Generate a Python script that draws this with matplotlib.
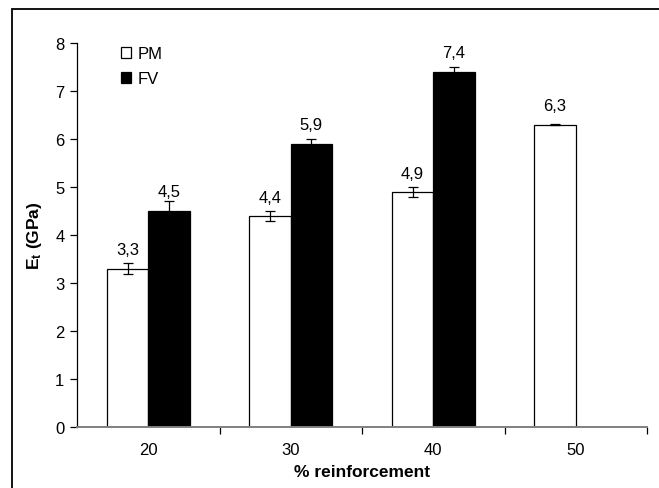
import matplotlib
matplotlib.use("Agg")
import matplotlib.pyplot as plt
from matplotlib.patches import Rectangle
import numpy as np

plt.rcParams["font.family"] = ["Liberation Sans", "DejaVu Sans"]
plt.rcParams["mathtext.fontset"] = "custom"
plt.rcParams["mathtext.rm"] = "Liberation Sans"
plt.rcParams["mathtext.bf"] = "Liberation Sans:bold"

# data
categories = ["20", "30", "40", "50"]
pm_values = [3.3, 4.4, 4.9, 6.3]
pm_errors = [0.11, 0.1, 0.1, 0.01]
fv_values = [4.5, 5.9, 7.4]
fv_errors = [0.2, 0.1, 0.1]

def fmt(v):
    return f"{v:.1f}".replace(".", ",")

fig = plt.figure(figsize=(6.59, 4.89), dpi=100)
ax = fig.add_axes([77 / 659, 1 - 428 / 489, 570 / 659, 384 / 489])

x = np.arange(len(categories))
w = 0.29
ekw = dict(elinewidth=0.9, capthick=0.9, ecolor="black")

pm_x = x - w / 2
fv_x = x[:len(fv_values)] + w / 2
ax.bar(pm_x, pm_values, w, yerr=pm_errors, capsize=3.5, color="white",
       edgecolor="black", linewidth=0.9, error_kw=ekw, label="PM", zorder=2)
ax.bar(fv_x, fv_values, w, yerr=fv_errors, capsize=3.5, color="black",
       edgecolor="black", linewidth=0.9, error_kw=ekw, label="FV", zorder=2)

fs = 12
for xi, v in zip(pm_x, pm_values):
    ax.text(xi, v + 0.39, fmt(v), ha="center", va="center", fontsize=fs)
for xi, v in zip(fv_x, fv_values):
    ax.text(xi, v + 0.4, fmt(v), ha="center", va="center", fontsize=fs)

ax.set_xlim(-0.5, 3.5)
ax.set_ylim(0, 8)
ax.set_yticks(range(0, 9))
ax.set_xticks(x)
ax.set_xticklabels(categories)
ax.set_xticks(np.arange(0.5, 4, 1), minor=True)
ax.tick_params(axis="x", which="major", length=0, pad=11, labelsize=fs)
ax.tick_params(axis="x", which="minor", length=5, width=0.9, direction="out", color="black")
ax.tick_params(axis="y", length=5, width=0.9, direction="out", pad=4, labelsize=fs)

for s in ["top", "right"]:
    ax.spines[s].set_visible(False)
ax.spines["left"].set_linewidth(0.9)
ax.spines["bottom"].set_color("#808080")
ax.spines["bottom"].set_linewidth(1.4)

ax.set_xlabel("% reinforcement", fontsize=12.5, fontweight="bold", labelpad=5)
ax.set_ylabel(r"$\mathbf{E_t}$ (GPa)", fontsize=12.5, fontweight="bold", labelpad=8)

ax.legend(loc="upper left", bbox_to_anchor=(0.05, 1.03), frameon=False,
          fontsize=fs, handlelength=0.65, handleheight=0.65,
          handletextpad=0.35, labelspacing=0.6)

# border around the figure
fig.patches.append(Rectangle((12 / 659, -0.1), 1.2, 1 - 10 / 489 + 0.1,
                             transform=fig.transFigure, fill=False,
                             edgecolor="black", linewidth=1.3))

fig.savefig("out.png", dpi=100)
